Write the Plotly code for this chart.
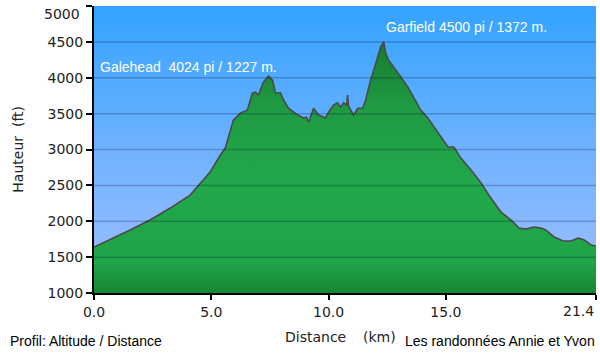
import plotly.graph_objects as go

# Profile data (distance km, altitude ft)
dist_km = [0.0, 0.68, 1.54, 2.39, 3.25, 4.10, 4.53, 4.96, 5.38, 5.60, 5.94, 6.24, 6.54,
           6.75, 6.88, 7.01, 7.22, 7.44, 7.61, 7.74, 7.95, 8.08, 8.29, 8.68, 8.93, 9.06,
           9.15, 9.36, 9.57, 9.87, 10.0, 10.21, 10.38, 10.51, 10.64, 10.77, 10.81, 10.85,
           10.94, 11.07, 11.24, 11.45, 11.58, 11.79, 12.01, 12.22, 12.35, 12.44, 12.56,
           12.78, 13.08, 13.38, 13.63, 13.93, 14.23, 14.49, 14.79, 15.09, 15.34, 15.64,
           16.07, 16.50, 16.92, 17.35, 17.78, 18.12, 18.42, 18.76, 19.06, 19.27, 19.62,
           20.0, 20.34, 20.64, 20.90, 21.20, 21.4]
alt_ft = [1640, 1740, 1877, 2017, 2184, 2365, 2532, 2690, 2920, 3020, 3410, 3507, 3550,
          3786, 3800, 3760, 3940, 4024, 3967, 3786, 3790, 3690, 3575, 3480, 3440, 3450,
          3380, 3575, 3480, 3440, 3520, 3620, 3650, 3590, 3650, 3620, 3760, 3610,
          3550, 3480, 3575, 3575, 3690, 3967, 4200, 4430, 4500, 4340, 4245,
          4150, 4010, 3870, 3716, 3550, 3440, 3312, 3173, 3034, 3034, 2880,
          2713, 2532, 2323, 2128, 2017, 1905, 1890, 1920, 1905, 1877, 1780,
          1724, 1724, 1766, 1738, 1668, 1655]

y_ticks = [1000, 1500, 2000, 2500, 3000, 3500, 4000, 4500, 5000]
x_ticks = [0, 5, 10, 15, 21.4]
x_ticktext = ["0.0", "5.0", "10.0", "15.0", ""]
x_min, x_max = 0, 21.4
y_min, y_max = 1000, 5000

tick_font = dict(family="DejaVu Sans", size=14, color="#222222")
arial = "Liberation Sans"

fig = go.Figure()

# Sky background gradient
fig.add_trace(go.Scatter(
    x=[x_min, x_max, x_max, x_min, x_min],
    y=[y_min, y_min, y_max, y_max, y_min],
    mode="none", fill="toself",
    fillgradient=dict(type="vertical", start=y_min, stop=y_max,
                      colorscale=[[0, "#A2BFFF"], [0.5, "#6FB2FF"], [1, "#33A3FF"]]),
    hoverinfo="skip", showlegend=False))

# Terrain profile
fig.add_trace(go.Scatter(
    x=dist_km, y=alt_ft, mode="lines",
    line=dict(color="#4a4a4a", width=1.6),
    fill="tozeroy",
    fillgradient=dict(type="vertical", start=y_min, stop=4500,
                      colorscale=[[0, "#178633"], [0.12, "#20A448"], [0.45, "#21A84A"],
                                  [0.75, "#1E9A42"], [1, "#177A2E"]]),
    hoverinfo="skip", showlegend=False))

# Grid lines above the fill
for v in y_ticks[1:-1]:
    fig.add_shape(type="line", xref="x", yref="y", x0=x_min, x1=x_max, y0=v, y1=v,
                  line=dict(color="rgba(0,0,40,0.22)", width=1.5), layer="above")

annotations = [
    dict(x=0.17, y=4150, xref="x", yref="y", text="Galehead  4024 pi / 1227 m.",
         showarrow=False, xanchor="left", yanchor="middle",
         font=dict(family=arial, size=14, color="white")),
    dict(x=12.36, y=4705, xref="x", yref="y", text="Garfield 4500 pi / 1372 m.",
         showarrow=False, xanchor="left", yanchor="middle",
         font=dict(family=arial, size=14, color="white")),
    dict(x=x_max, y=0, xref="x", yref="paper", text="21.4", showarrow=False,
         xanchor="right", yanchor="top", yshift=-8, font=tick_font),
    dict(x=-0.153, y=0.5, xref="paper", yref="paper", text="Hauteur\u00a0\u00a0(ft)",
         textangle=-90, showarrow=False, xanchor="center", yanchor="middle", font=tick_font),
    dict(x=-0.171, y=-0.167, xref="paper", yref="paper", text="Profil: Altitude / Distance",
         showarrow=False, xanchor="left", yanchor="middle",
         font=dict(family=arial, size=14, color="black")),
    dict(x=0.3765, y=-0.153, xref="paper", yref="paper", text="Distance",
         showarrow=False, xanchor="left", yanchor="middle", font=tick_font),
    dict(x=0.532, y=-0.153, xref="paper", yref="paper", text="(km)",
         showarrow=False, xanchor="left", yanchor="middle", font=tick_font),
    dict(x=0.6155, y=-0.167, xref="paper", yref="paper", text="Les randonnées Annie et Yvon",
         showarrow=False, xanchor="left", yanchor="middle",
         font=dict(family=arial, size=14, color="black")),
    dict(x=0, y=1, xref="paper", yref="paper", text=str(y_max), showarrow=False,
         xanchor="right", yanchor="top", xshift=-12, yshift=2, font=tick_font),
]

fig.update_layout(
    width=600, height=354,
    margin=dict(l=94, r=4, t=6, b=61),
    paper_bgcolor="white", plot_bgcolor="white",
    annotations=annotations,
    xaxis=dict(range=[x_min, x_max], tickvals=x_ticks, ticktext=x_ticktext,
               ticks="outside", ticklen=5, tickwidth=2, tickcolor="black",
               showline=True, linecolor="black", linewidth=2, showgrid=False,
               zeroline=False, tickfont=tick_font),
    yaxis=dict(range=[y_min, y_max], tickvals=y_ticks,
               ticktext=[str(v) if v != y_max else "" for v in y_ticks],
               ticks="outside", ticklen=6, tickwidth=2, tickcolor="black",
               showline=True, linecolor="black", linewidth=2, showgrid=False,
               zeroline=False, tickfont=tick_font),
)

fig.write_html("out.html")
